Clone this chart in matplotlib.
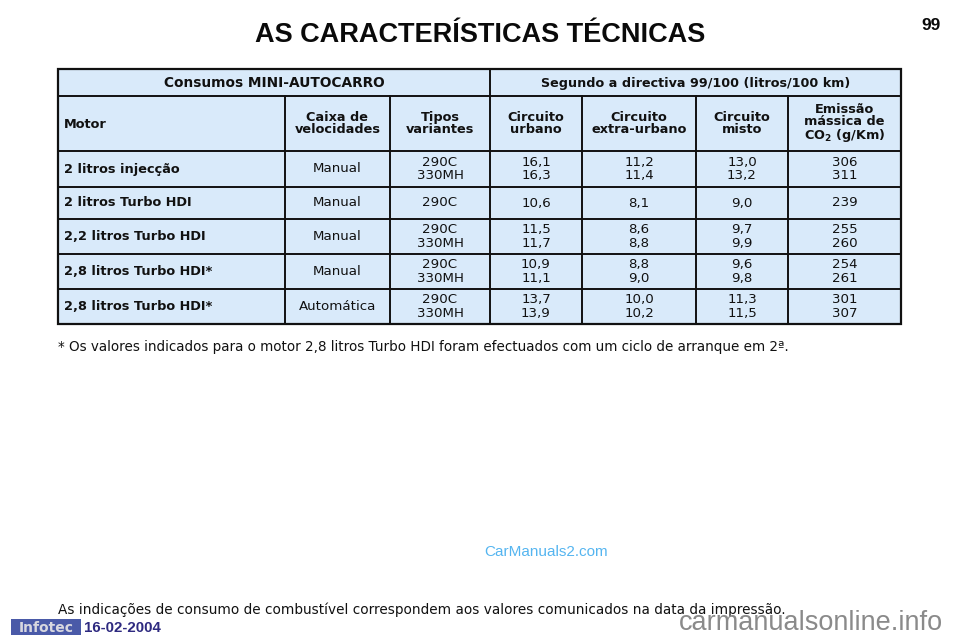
import matplotlib
matplotlib.use('Agg')
import matplotlib.pyplot as plt
from matplotlib.patches import Rectangle

plt.rcParams['font.family'] = ['DejaVu Sans']
plt.rcParams['mathtext.fontset'] = 'dejavusans'

title = 'AS CARACTERÍSTICAS TÉCNICAS'
page_number = '99'
header_left = 'Consumos MINI-AUTOCARRO'
header_right = 'Segundo a directiva 99/100 (litros/100 km)'
col_headers = ['Motor', 'Caixa de\nvelocidades', 'Tipos\nvariantes', 'Circuito\nurbano',
               'Circuito\nextra-urbano', 'Circuito\nmisto', 'Emissão\nmássica de\nCO$_{\\mathbf{2}}$ (g/Km)']
motors = ['2 litros injecção', '2 litros Turbo HDI', '2,2 litros Turbo HDI',
          '2,8 litros Turbo HDI*', '2,8 litros Turbo HDI*']
gearbox = ['Manual', 'Manual', 'Manual', 'Manual', 'Automática']
variants = ['290C\n330MH', '290C', '290C\n330MH', '290C\n330MH', '290C\n330MH']
urban = ['16,1\n16,3', '10,6', '11,5\n11,7', '10,9\n11,1', '13,7\n13,9']
extra_urban = ['11,2\n11,4', '8,1', '8,6\n8,8', '8,8\n9,0', '10,0\n10,2']
mixed = ['13,0\n13,2', '9,0', '9,7\n9,9', '9,6\n9,8', '11,3\n11,5']
co2 = ['306\n311', '239', '255\n260', '254\n261', '301\n307']
footnote = '* Os valores indicados para o motor 2,8 litros Turbo HDI foram efectuados com um ciclo de arranque em 2ª.'
bottom_note = 'As indicações de consumo de combustível correspondem aos valores comunicados na data da impressão.'

# table grid in pixels
col_x = [58, 285, 390, 490, 582, 696, 788, 901]
row_y = [69, 96, 151, 187, 219, 254, 289, 324]
fill = '#d9eafa'
line = '#111111'

fig = plt.figure(figsize=(9.6, 6.4), dpi=100)
ax = fig.add_axes([0, 0, 1, 1])
ax.set_xlim(0, 960)
ax.set_ylim(640, 0)
ax.axis('off')

ax.add_patch(Rectangle((col_x[0], row_y[0]), col_x[-1] - col_x[0], row_y[-1] - row_y[0],
                       facecolor=fill, edgecolor=line, linewidth=1.6))
for y in row_y[1:-1]:
    ax.plot([col_x[0], col_x[-1]], [y, y], color=line, lw=1.4)
for x in col_x[1:-1]:
    top = row_y[0] if x == col_x[3] else row_y[1]
    ax.plot([x, x], [top, row_y[-1]], color=line, lw=1.4)

def cell_text(x, y, s, size=9.6, bold=False, ha='center', linespacing=0.95):
    ax.text(x, y, s, fontsize=size, fontweight='bold' if bold else 'normal', ha=ha, va='center',
            color='#111111', linespacing=linespacing)

ax.text(480, 35, title, fontsize=19.5, fontweight='bold', ha='center', va='center',
        color='#0a0a0a', family='Liberation Sans')
ax.text(931, 25, page_number, fontsize=12.5, fontweight='bold', ha='center', va='center',
        color='#0a0a0a', family='Liberation Sans')

cell_text((col_x[0] + col_x[3]) / 2, 83, header_left, 9.9, True)
cell_text((col_x[3] + col_x[-1]) / 2, 83, header_right, 9.2, True)

cell_text(64, 125, col_headers[0], 9.3, True, ha='left')
for j in range(1, 7):
    cell_text((col_x[j] + col_x[j + 1]) / 2, (row_y[1] + row_y[2]) / 2, col_headers[j], 9.3, True)

columns = [gearbox, variants, urban, extra_urban, mixed, co2]
for r in range(5):
    yc = (row_y[r + 2] + row_y[r + 3]) / 2
    cell_text(64, yc, motors[r], 9.3, True, ha='left')
    for j, col in enumerate(columns):
        cell_text((col_x[j + 1] + col_x[j + 2]) / 2, yc, col[r], 9.6, linespacing=1.02)

ax.text(58, 347, footnote, fontsize=9.75, ha='left', va='center', color='#111111')
ax.text(58, 610, bottom_note, fontsize=9.85, ha='left', va='center', color='#111111')

ax.text(546, 552, 'CarManuals2.com', fontsize=11, ha='center', va='center',
        color='#55b5f0', family='Liberation Sans')
ax.add_patch(Rectangle((11, 619), 70, 16, facecolor='#4a5aa8', edgecolor='none'))
ax.text(46, 628, 'Infotec', fontsize=10, fontweight='bold', ha='center', va='center',
        color='#d8d8e0', family='DejaVu Sans')
ax.text(122.5, 628, '16-02-2004', fontsize=10.8, fontweight='bold', ha='center', va='center',
        color='#2e2a80', family='Liberation Sans')
ax.text(811, 623, 'carmanualsonline.info', fontsize=19.5, ha='center', va='center',
        color='#8a8a8a', family='Liberation Sans')

fig.savefig('out.png', dpi=100)
